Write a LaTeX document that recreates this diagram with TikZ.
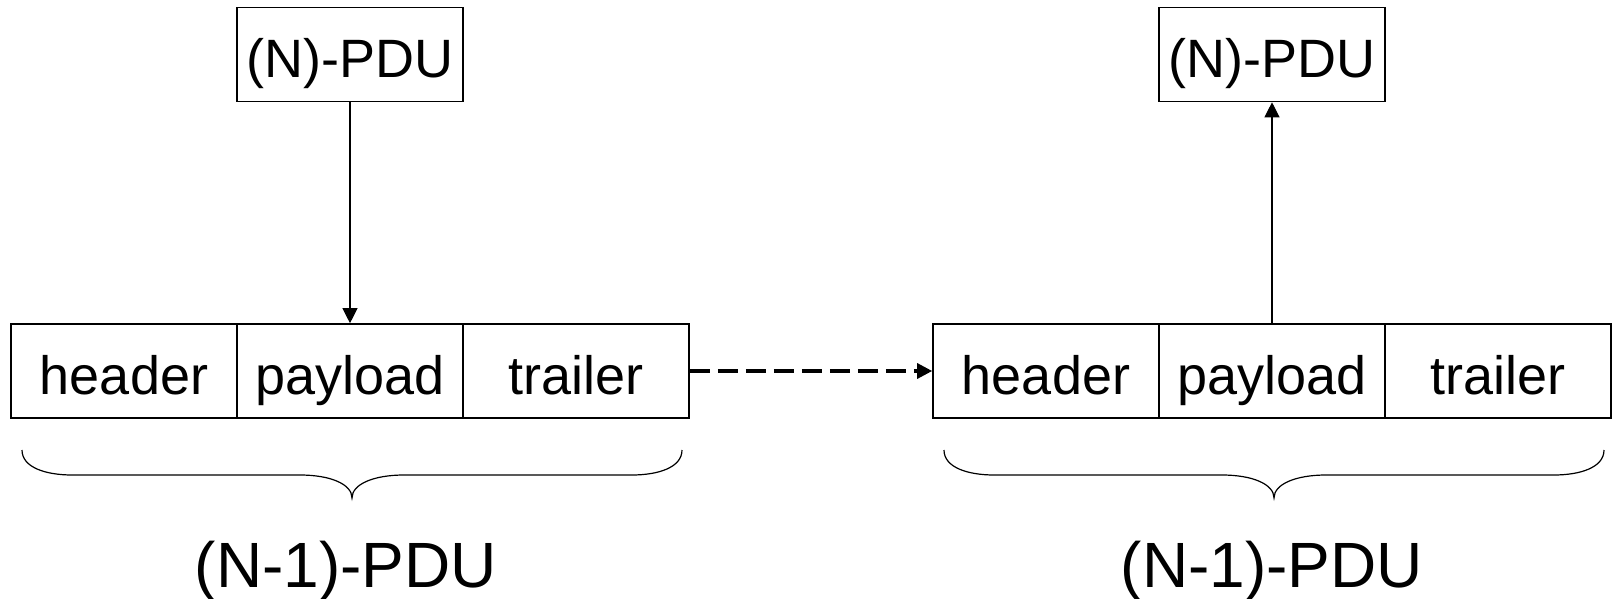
\documentclass[tikz,border=0pt]{standalone}
\usepackage{fontspec}
\setmainfont{Liberation Sans}
\usetikzlibrary{arrows.meta}
\begin{document}
\begin{tikzpicture}[x=0.5pt,y=-0.5pt,
  cell/.style={draw, line width=0.8pt, minimum width=113pt, minimum height=47pt,
    inner sep=0pt, font=\fontsize{27}{32}\selectfont, text height=23pt, text depth=0pt},
  pdulabel/.style={inner sep=0pt, anchor=base, font=\fontsize{32}{38}\selectfont},
  link/.style={line width=0.55pt, -{Triangle[length=7.5pt,width=7.5pt]}},
  dashlink/.style={line width=1.6pt, dash pattern=on 10pt off 4pt,
    -{Triangle[length=7.5pt,width=7.5pt]}},
  pdubrace/.pic={
    \draw[line width=0.6pt]
      (-330,0) .. controls (-330,18) and (-305,25) .. (-280,25)
      -- (-52,25) .. controls (-22,25) and (0,34) .. (0,48)
      .. controls (0,34) and (22,25) .. (52,25)
      -- (280,25) .. controls (305,25) and (330,18) .. (330,0);
  }]
\useasboundingbox (0,0) rectangle (1612,599);

% sending side
\node[cell] (ltop) at (350,54.5) {(N)-PDU};
\node[cell] (lh) at (124,371) {header};
\node[cell] (lp) at (350,371) {payload};
\node[cell] (lt) at (576,371) {trailer};
\draw[link] (ltop.south) -- (lp.north);
\pic at (352,450) {pdubrace};
\node[pdulabel] (llab) at (346,587) {(N-1)-PDU};

% receiving side
\node[cell] (rtop) at (1272,54.5) {(N)-PDU};
\node[cell] (rh) at (1046,371) {header};
\node[cell] (rp) at (1272,371) {payload};
\node[cell] (rt) at (1498,371) {trailer};
\draw[link] (rp.north) -- (rtop.south);
\pic at (1274,450) {pdubrace};
\node[pdulabel] (rlab) at (1272,587) {(N-1)-PDU};

% transfer between the two sides
\draw[dashlink] (lt.east) -- (rh.west);
\end{tikzpicture}
\end{document}
